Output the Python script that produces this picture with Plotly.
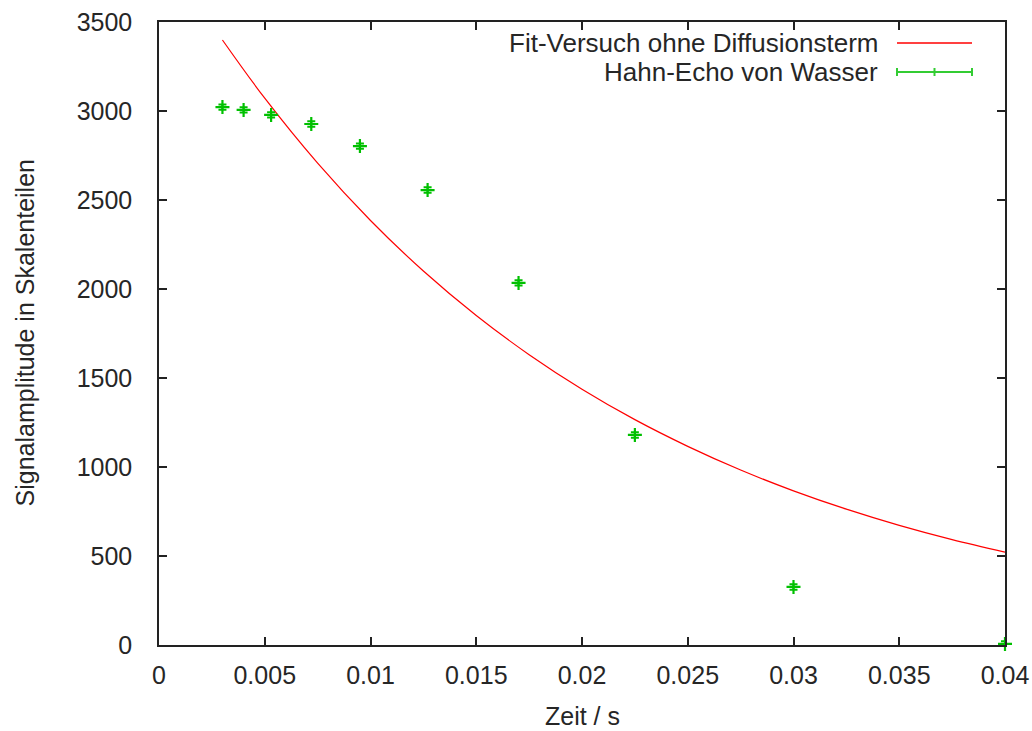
import plotly.graph_objects as go

# Measured data (Hahn-Echo von Wasser)
zeit = [0.003, 0.004, 0.0053, 0.0072, 0.0095, 0.0127, 0.0170, 0.0225, 0.0300, 0.0400]
amplitude = [3022, 3006, 2978, 2927, 2803, 2556, 2034, 1180, 326, 6]
fehler = [15, 15, 15, 15, 15, 15, 15, 15, 15, 15]

# Fit curve
fit_x = [0.003, 0.005, 0.0075, 0.01, 0.0125, 0.015, 0.0175, 0.02, 0.0225,
         0.025, 0.0275, 0.03, 0.0325, 0.035, 0.0375, 0.04]
fit_y = [3399, 3072, 2707, 2385, 2101, 1851, 1631, 1437, 1266,
         1116, 983, 866, 763, 672, 592, 522]

legend_labels = ["Fit-Versuch ohne Diffusionsterm", "Hahn-Echo von Wasser"]

RED = "#ff0000"
GREEN = "#00c000"
FONT = "Liberation Sans"
FS = 25
TXT = "#262626"

fig = go.Figure()
fig.add_trace(go.Scatter(
    x=fit_x, y=fit_y, mode="lines", name=legend_labels[0],
    line=dict(color=RED, width=1.2, shape="spline"), showlegend=False))
fig.add_trace(go.Scatter(
    x=zeit, y=amplitude, mode="markers", name=legend_labels[1],
    marker=dict(symbol="cross-thin", size=10, line=dict(color=GREEN, width=2.2), color=GREEN),
    error_y=dict(type="data", array=fehler, color=GREEN, thickness=2, width=4),
    cliponaxis=False, showlegend=False))

# custom gnuplot-style legend (text left of sample)
txt_x = (880 - 159) / 846
l0, l1 = (897 - 159) / 846, (972 - 159) / 846
rows = [(645 - 43) / 623, (645 - 72) / 623]
for lab, yy in zip(legend_labels, rows):
    fig.add_annotation(x=txt_x, y=yy, xref="paper", yref="paper", text=lab,
                       showarrow=False, xanchor="right", yanchor="middle",
                       font=dict(family=FONT, size=FS + 1, color=TXT))
fig.add_shape(type="line", xref="paper", yref="paper", x0=l0, x1=l1, y0=rows[0], y1=rows[0],
              line=dict(color=RED, width=1.5))
fig.add_shape(type="line", xref="paper", yref="paper", x0=l0, x1=l1, y0=rows[1], y1=rows[1],
              line=dict(color="#33cc33", width=2))
dy = 4 / 623
for xx in (l0, (l0 + l1) / 2, l1):
    fig.add_shape(type="line", xref="paper", yref="paper", x0=xx, x1=xx,
                  y0=rows[1] - dy, y1=rows[1] + dy, line=dict(color="#33cc33", width=2))

# axis titles placed like gnuplot
fig.add_annotation(x=0.5, y=-(716 - 645) / 623, xref="paper", yref="paper", text="Zeit / s",
                   showarrow=False, xanchor="center", yanchor="middle",
                   font=dict(family=FONT, size=FS, color=TXT))
fig.add_annotation(x=-(159 - 24) / 846, y=0.5, xref="paper", yref="paper",
                   text="Signalamplitude in Skalenteilen", textangle=-90,
                   showarrow=False, xanchor="center", yanchor="middle",
                   font=dict(family=FONT, size=FS, color=TXT))

axis_common = dict(
    showline=True, linecolor="#222", linewidth=1.5, mirror="ticks",
    ticks="inside", ticklen=8, tickwidth=1.5, tickcolor="#222",
    showgrid=False, zeroline=False, automargin=False,
    tickfont=dict(family=FONT, size=FS, color=TXT),
)

fig.update_layout(
    width=1032, height=731,
    margin=dict(l=159, r=27, t=22, b=86),
    paper_bgcolor="white", plot_bgcolor="white",
    font=dict(family=FONT, size=FS, color=TXT),
    xaxis=dict(range=[0, 0.04], dtick=0.005, tick0=0,
               ticklabelstandoff=7, **axis_common),
    yaxis=dict(range=[0, 3500], dtick=500, tick0=0, tickformat="d",
               ticklabelstandoff=20, **axis_common),
)

fig.write_html("out.html")
